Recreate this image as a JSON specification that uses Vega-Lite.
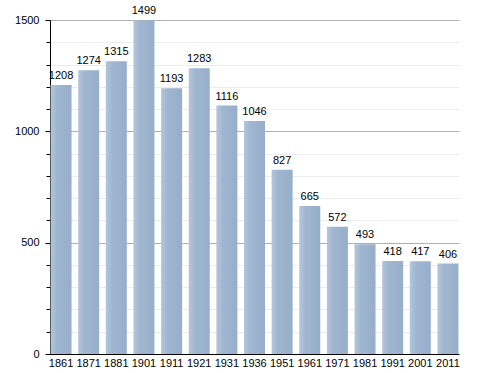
{
  "$schema": "https://vega.github.io/schema/vega-lite/v6.json",
  "autosize": "none",
  "width": 409,
  "height": 334,
  "padding": {"left": 50, "top": 20, "right": 29, "bottom": 19},
  "background": "white",
  "config": {
    "view": {"stroke": null},
    "font": "Liberation Sans",
    "axis": {"labelFont": "Liberation Sans", "labelFontSize": 11, "labelColor": "#000"}
  },
  "data": {
    "values": [
      {"year": "1861", "pop": 1208},
      {"year": "1871", "pop": 1274},
      {"year": "1881", "pop": 1315},
      {"year": "1901", "pop": 1499},
      {"year": "1911", "pop": 1193},
      {"year": "1921", "pop": 1283},
      {"year": "1931", "pop": 1116},
      {"year": "1936", "pop": 1046},
      {"year": "1951", "pop": 827},
      {"year": "1961", "pop": 665},
      {"year": "1971", "pop": 572},
      {"year": "1981", "pop": 493},
      {"year": "1991", "pop": 418},
      {"year": "2001", "pop": 417},
      {"year": "2011", "pop": 406}
    ]
  },
  "encoding": {
    "x": {
      "field": "year", "type": "ordinal", "sort": null, "title": null,
      "scale": {"paddingInner": 0.24, "paddingOuter": 0.02},
      "axis": {"labelAngle": 0, "ticks": false, "domainColor": "#000", "labelPadding": 3}
    },
    "y": {
      "field": "pop", "type": "quantitative", "title": null,
      "scale": {"domain": [0, 1500], "nice": false},
      "axis": {
        "values": [0, 100, 200, 300, 400, 500, 600, 700, 800, 900, 1000, 1100, 1200, 1300, 1400, 1500],
        "labelExpr": "datum.value % 500 === 0 ? datum.label : ''",
        "format": "d",
        "domainColor": "#000",
        "tickColor": "#000",
        "tickSize": {"condition": {"test": "datum.value % 500 === 0", "value": 5}, "value": 4},
        "gridColor": {"condition": {"test": "datum.value % 500 === 0", "value": "#b0b0b0"}, "value": "#ececec"},
        "labelPadding": 6
      }
    }
  },
  "layer": [
    {
      "mark": {
        "type": "bar",
        "color": {
          "gradient": "linear", "x1": 0, "x2": 1, "y1": 0, "y2": 0,
          "stops": [
            {"offset": 0, "color": "#b4c6dc"},
            {"offset": 0.3, "color": "#a0b6d0"},
            {"offset": 1, "color": "#97aecb"}
          ]
        }
      }
    },
    {
      "mark": {"type": "text", "baseline": "bottom", "dy": -4, "fontSize": 11, "color": "#000", "font": "Liberation Sans"},
      "encoding": {"text": {"field": "pop", "type": "quantitative"}}
    }
  ]
}
